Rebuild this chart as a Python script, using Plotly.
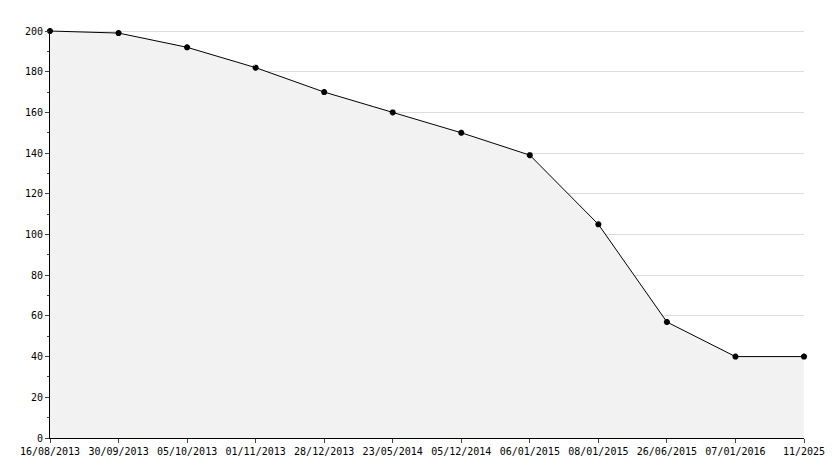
import plotly.graph_objects as go

labels = ["16/08/2013","30/09/2013","05/10/2013","01/11/2013","28/12/2013","23/05/2014",
          "05/12/2014","06/01/2015","08/01/2015","26/06/2015","07/01/2016","11/2025"]
values = [200, 199, 192, 182, 170, 160, 150, 139, 105, 57, 40, 40]
idx = list(range(len(labels)))

fig = go.Figure(go.Scatter(
    x=idx, y=values, mode="lines+markers", fill="tozeroy",
    fillcolor="#f2f2f2", line=dict(color="black", width=1),
    marker=dict(symbol="asterisk", size=5, color="black", line=dict(color="black", width=2)),
    cliponaxis=False,
))
fig.update_layout(
    width=834, height=468, margin=dict(l=42, r=38, t=22, b=38),
    plot_bgcolor="white", paper_bgcolor="white", showlegend=False,
    font=dict(family="DejaVu Sans Mono", size=10, color="black"),
)
fig.update_xaxes(range=[0, 11], tickvals=idx, ticktext=labels, showgrid=False,
                 showline=True, linecolor="black", ticks="outside", ticklen=4, zeroline=False)
fig.update_yaxes(range=[0, 200.5], tickvals=list(range(0, 201, 20)), showgrid=True, gridcolor="#dddddd",
                 showline=True, linecolor="black", ticks="outside", ticklen=4, zeroline=False,
                 minor=dict(dtick=10, ticks="outside", ticklen=2, showgrid=False))
fig.write_html("out.html")
